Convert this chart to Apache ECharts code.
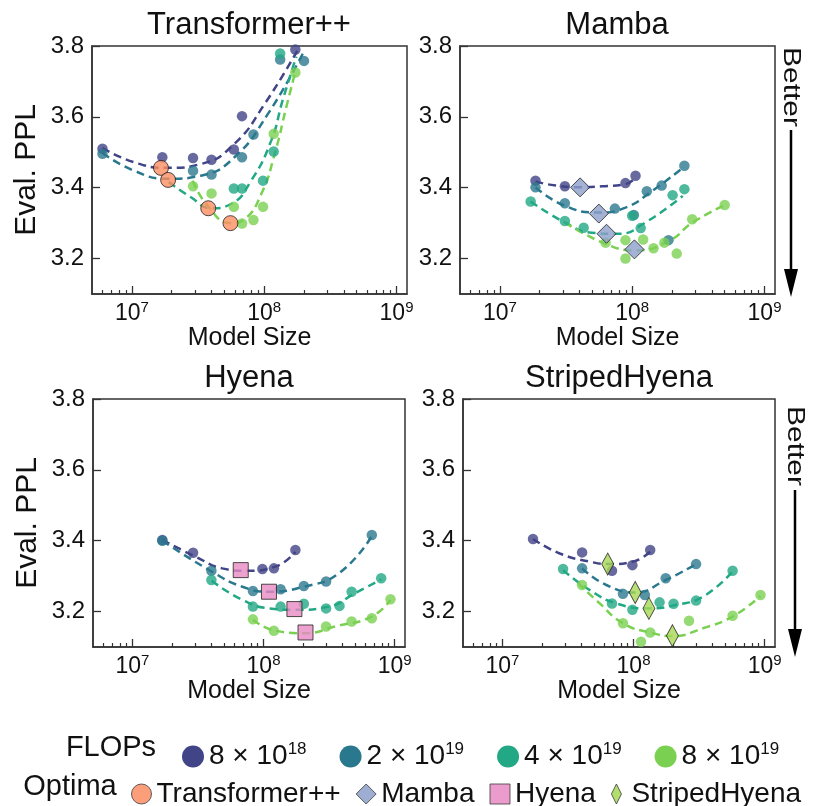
<!DOCTYPE html>
<html>
<head>
<meta charset="utf-8">
<script src="https://cdn.jsdelivr.net/npm/echarts@6/dist/echarts.min.js"></script>
<style>
  html, body { margin: 0; padding: 0; background: #fff; }
  #chart { width: 827px; height: 806px; }
</style>
</head>
<body>
<div id="chart"></div>
<script>
// FLOP budgets (legend names) and model names
var flopNames = ['8e18', '2e19', '4e19', '8e19'];
var modelNames = ['Transformer++', 'Mamba', 'Hyena', 'StripedHyena'];

// tick labels
var xMajorTicks = [1e7, 1e8, 1e9];
var xMinorTicks = [6e6, 7e6, 8e6, 9e6, 2e7, 3e7, 4e7, 5e7, 6e7, 7e7, 8e7, 9e7,
  2e8, 3e8, 4e8, 5e8, 6e8, 7e8, 8e8, 9e8];
var yTicks = [3.2, 3.4, 3.6, 3.8];

// Transformer++ : measured runs per FLOP budget, fitted curves, optima
var tfDots = [
  [[6e6, 3.51], [1.7e7, 3.486], [2.9e7, 3.484], [4.0e7, 3.479], [5.9e7, 3.508], [6.8e7, 3.602], [1.72e8, 3.79]],
  [[6e6, 3.496], [2.9e7, 3.448], [4.0e7, 3.437], [6.8e7, 3.486], [8.3e7, 3.55], [1.32e8, 3.762], [2.0e8, 3.758]],
  [[5.9e7, 3.398], [6.8e7, 3.398], [9.8e7, 3.42], [1.18e8, 3.502], [1.32e8, 3.779]],
  [[2.9e7, 3.404], [4.0e7, 3.384], [5.9e7, 3.346], [6.8e7, 3.299], [8.3e7, 3.309], [9.8e7, 3.346], [1.18e8, 3.552], [1.72e8, 3.725]]
];
var tfFits = [
  [[6e6, 3.512], [1.04e7, 3.472], [1.86e7, 3.456], [3.33e7, 3.467], [5.96e7, 3.524], [1.01e8, 3.637], [1.8e8, 3.79]],
  [[6e6, 3.498], [1.04e7, 3.448], [1.86e7, 3.425], [3.33e7, 3.434], [5.96e7, 3.486], [1.07e8, 3.609], [1.96e8, 3.779]],
  [[1.9e7, 3.416], [2.8e7, 3.373], [3.96e7, 3.342], [5.62e7, 3.354], [7.98e7, 3.42], [1.13e8, 3.533], [1.38e8, 3.647], [1.75e8, 3.77]],
  [[2.88e7, 3.42], [3.74e7, 3.349], [5.56e7, 3.3], [7.1e7, 3.311], [9.5e7, 3.382], [1.2e8, 3.495], [1.47e8, 3.628], [1.72e8, 3.727]]
];
var tfOptima = [[1.66e7, 3.456], [1.88e7, 3.422], [3.78e7, 3.342], [5.56e7, 3.30]];

// Mamba
var mambaDots = [
  [[1.86e7, 3.42], [3.1e7, 3.404], [8.9e7, 3.413], [1.06e8, 3.434]],
  [[1.86e7, 3.401], [3.1e7, 3.356], [7.4e7, 3.341], [1.03e8, 3.323], [1.29e8, 3.39], [1.67e8, 3.406], [1.88e8, 3.252], [2.48e8, 3.462]],
  [[1.71e7, 3.361], [3.1e7, 3.306], [4.3e7, 3.287], [1.0e8, 3.321], [1.16e8, 3.286], [2.02e8, 3.379], [2.48e8, 3.396]],
  [[6.3e7, 3.245], [8.9e7, 3.252], [8.9e7, 3.2], [1.21e8, 3.254], [1.45e8, 3.229], [1.75e8, 3.245], [2.17e8, 3.214], [2.84e8, 3.311], [5.0e8, 3.351]]
];
var mambaFits = [
  [[1.86e7, 3.418], [2.45e7, 3.408], [4.04e7, 3.401], [5.9e7, 3.404], [8.9e7, 3.41], [1.06e8, 3.429]],
  [[1.86e7, 3.401], [3.1e7, 3.349], [5.57e7, 3.33], [8.9e7, 3.344], [1.42e8, 3.391], [2.48e8, 3.46]],
  [[1.71e7, 3.361], [3.1e7, 3.302], [4.95e7, 3.273], [7.9e7, 3.27], [1.26e8, 3.302], [2.41e8, 3.377]],
  [[3.1e7, 3.302], [6.25e7, 3.242], [1.06e8, 3.223], [1.9e8, 3.25], [2.87e8, 3.302], [5.0e8, 3.351]]
];
var mambaOptima = [[4.04e7, 3.401], [5.6e7, 3.327], [6.4e7, 3.27], [1.04e8, 3.226]];

// Hyena
var hyenaDots = [
  [[1.69e7, 3.402], [2.9e7, 3.366], [9.8e7, 3.32], [1.2e8, 3.322], [1.75e8, 3.374]],
  [[1.69e7, 3.40], [4.0e7, 3.315], [8.3e7, 3.258], [1.35e8, 3.263], [2.03e8, 3.272], [3.0e8, 3.285], [6.7e8, 3.416]],
  [[4.0e7, 3.289], [8.3e7, 3.214], [1.35e8, 3.214], [2.03e8, 3.222], [3.0e8, 3.209], [3.8e8, 3.216], [4.7e8, 3.256], [7.9e8, 3.294]],
  [[8.3e7, 3.178], [1.2e8, 3.146], [3.0e8, 3.158], [4.7e8, 3.172], [6.7e8, 3.181], [9.3e8, 3.235]]
];
var hyenaFits = [
  [[1.69e7, 3.402], [3.03e7, 3.355], [4.84e7, 3.322], [7.3e7, 3.315], [1.23e8, 3.327], [1.75e8, 3.369]],
  [[1.69e7, 3.40], [4.02e7, 3.313], [6.9e7, 3.27], [1.1e8, 3.256], [1.97e8, 3.269], [3.75e8, 3.308], [6.7e8, 3.413]],
  [[4.02e7, 3.287], [6.9e7, 3.233], [1.1e8, 3.209], [1.75e8, 3.205], [3.14e8, 3.214], [5.0e8, 3.252], [7.9e8, 3.291]],
  [[8.3e7, 3.177], [1.23e8, 3.146], [2.09e8, 3.139], [3.53e8, 3.158], [6.7e8, 3.186], [9.3e8, 3.233]]
];
var hyenaOptima = [[6.7e7, 3.317], [1.1e8, 3.256], [1.72e8, 3.207], [2.09e8, 3.141]];

// StripedHyena
var stripedDots = [
  [[1.71e7, 3.405], [4.05e7, 3.367], [6.85e7, 3.315], [9.8e7, 3.331], [1.34e8, 3.374]],
  [[4.05e7, 3.322], [8.3e7, 3.25], [1.22e8, 3.247], [1.76e8, 3.294], [3.0e8, 3.334]],
  [[2.9e7, 3.32], [6.85e7, 3.223], [9.8e7, 3.205], [1.58e8, 3.226], [2.02e8, 3.222], [3.0e8, 3.231], [5.7e8, 3.315]],
  [[4.05e7, 3.275], [8.3e7, 3.167], [1.14e8, 3.115], [1.34e8, 3.141], [2.65e8, 3.174], [5.7e8, 3.188], [9.3e8, 3.247]]
];
var stripedFits = [
  [[1.71e7, 3.405], [2.74e7, 3.364], [4.63e7, 3.341], [6.58e7, 3.334], [9.9e7, 3.341], [1.34e8, 3.369]],
  [[4.05e7, 3.322], [6.2e7, 3.275], [1.03e8, 3.254], [1.76e8, 3.289], [3.0e8, 3.334]],
  [[2.9e7, 3.317], [4.63e7, 3.261], [7.4e7, 3.223], [1.31e8, 3.209], [2.12e8, 3.219], [3.39e8, 3.242], [5.7e8, 3.313]],
  [[3.78e7, 3.28], [5.52e7, 3.223], [8.3e7, 3.167], [1.33e8, 3.141], [2.0e8, 3.131], [3.39e8, 3.153], [5.7e8, 3.186], [9.3e8, 3.244]]
];
var stripedOptima = [[6.35e7, 3.334], [1.03e8, 3.254], [1.31e8, 3.209], [1.98e8, 3.132]];

var flopColors = ['#414487', '#2a788e', '#22a884', '#7ad151'];
var optimaColors = ['#fc8d62', '#8da0cb', '#e78ac3', '#a6d854'];
var optimaSymbols = ['circle', 'diamond', 'rect', 'path://M50,0 L100,100 L50,200 L0,100 Z'];
var optimaSizes = [15, 19, 15, [12, 22]];
var FONT = '"Liberation Sans", Arial, Helvetica, sans-serif';

var panels = [
  { dots: tfDots, fits: tfFits, optima: tfOptima },
  { dots: mambaDots, fits: mambaFits, optima: mambaOptima },
  { dots: hyenaDots, fits: hyenaFits, optima: hyenaOptima },
  { dots: stripedDots, fits: stripedFits, optima: stripedOptima }
];
var grids = [
  { left: 92, top: 46, width: 315, height: 248 },
  { left: 460, top: 46, width: 315, height: 248 },
  { left: 93, top: 399, width: 312, height: 248 },
  { left: 463, top: 399, width: 312, height: 248 }
];

var supRich = {
  b: { fontSize: 23, fontFamily: FONT, color: '#111' },
  s: { fontSize: 15, fontFamily: FONT, color: '#111', padding: [0, 0, 12, 0] }
};

var xAxes = [], yAxes = [], series = [];
grids.forEach(function (g, i) {
  g.show = true;
  g.borderColor = '#333';
  g.borderWidth = 1.5;
  // major ticks + labels
  xAxes.push({
    type: 'log', gridIndex: i, min: 5e6, max: 1.2e9, position: 'bottom',
    axisLine: { show: true, onZero: false, lineStyle: { color: '#333', width: 1.5 } },
    axisTick: { show: true, inside: true, length: 8, customValues: xMajorTicks, lineStyle: { color: '#333', width: 1.3 } },
    axisLabel: {
      customValues: xMajorTicks, margin: 6,
      formatter: function (v) { return '{b|10}{s|' + Math.round(Math.log10(v)) + '}'; },
      rich: supRich
    },
    splitLine: { show: false },
    name: 'Model Size', nameLocation: 'middle', nameGap: 31,
    nameTextStyle: { fontSize: 25, fontFamily: FONT, color: '#111' }
  });
  // minor ticks
  xAxes.push({
    type: 'log', gridIndex: i, min: 5e6, max: 1.2e9, position: 'bottom',
    axisLine: { show: false },
    axisTick: { show: true, inside: true, length: 4, customValues: xMinorTicks, lineStyle: { color: '#333', width: 1.2 } },
    axisLabel: { show: false },
    splitLine: { show: false }
  });
  yAxes.push({
    type: 'value', gridIndex: i, min: 3.1, max: 3.8,
    axisLine: { show: true, onZero: false, lineStyle: { color: '#333', width: 1.5 } },
    axisTick: { show: true, inside: true, length: 8, customValues: yTicks, lineStyle: { color: '#333', width: 1.3 } },
    axisLabel: {
      customValues: yTicks, margin: 8, fontSize: 24, fontFamily: FONT, color: '#111',
      formatter: function (v) { return v.toFixed(1); }
    },
    splitLine: { show: false },
    name: (i % 2 === 0) ? 'Eval. PPL' : '', nameLocation: 'middle', nameGap: 50, nameRotate: 90,
    nameTextStyle: { fontSize: 30, fontFamily: FONT, color: '#111' }
  });

  var p = panels[i];
  for (var k = 0; k < 4; k++) {
    series.push({
      name: flopNames[k], type: 'scatter', xAxisIndex: 2 * i, yAxisIndex: i,
      data: p.dots[k], symbol: 'circle', symbolSize: 10.5,
      itemStyle: { color: flopColors[k], opacity: 0.8 }, z: 3
    });
  }
  for (var k2 = 0; k2 < 4; k2++) {
    series.push({
      name: flopNames[k2], type: 'line', xAxisIndex: 2 * i, yAxisIndex: i,
      data: p.fits[k2], smooth: 0.5, showSymbol: false, symbol: 'none',
      lineStyle: { color: flopColors[k2], width: 2.5, type: [8, 5] }, z: 2
    });
  }
  series.push({
    name: modelNames[i], type: 'scatter', xAxisIndex: 2 * i, yAxisIndex: i,
    data: p.optima, symbol: optimaSymbols[i], symbolSize: optimaSizes[i],
    itemStyle: { color: optimaColors[i], borderColor: '#222', borderWidth: 1 }, z: 5
  });
});

var titles = [
  { x: 249, y: 25, text: 'Transformer++' },
  { x: 617, y: 25, text: 'Mamba' },
  { x: 249, y: 378, text: 'Hyena' },
  { x: 619, y: 378, text: 'StripedHyena' }
];
var graphics = titles.map(function (t) {
  return { type: 'text', x: t.x, y: t.y,
    style: { text: t.text, fontSize: 31, fontFamily: FONT, fill: '#111', align: 'center', verticalAlign: 'middle' } };
});
graphics.push(
  { type: 'text', x: 111, y: 748, style: { text: 'FLOPs', fontSize: 29, fontFamily: FONT, fill: '#111', align: 'center', verticalAlign: 'middle' } },
  { type: 'text', x: 70, y: 787, style: { text: 'Optima', fontSize: 29, fontFamily: FONT, fill: '#111', align: 'center', verticalAlign: 'middle' } }
);
// "Better" arrows
[{ ty: 87, y1: 130, y2: 297, x: 791 }, { ty: 446, y1: 490, y2: 657, x: 795 }].forEach(function (a) {
  graphics.push(
    { type: 'text', x: a.x, y: a.ty, rotation: -Math.PI / 2, scaleX: 1.25,
      style: { text: 'Better', fontSize: 24, fontFamily: FONT, fill: '#111', align: 'center', verticalAlign: 'middle' } },
    { type: 'line', shape: { x1: a.x, y1: a.y1, x2: a.x, y2: a.y2 - 20 }, style: { stroke: '#000', lineWidth: 2.5 } },
    { type: 'polygon', shape: { points: [[a.x - 7, a.y2 - 28], [a.x + 7, a.y2 - 28], [a.x, a.y2]] }, style: { fill: '#000' } }
  );
});

var option = {
  backgroundColor: '#fff',
  animation: false,
  grid: grids,
  xAxis: xAxes,
  yAxis: yAxes,
  series: series,
  graphic: graphics,
  legend: [
    {
      data: flopNames.map(function (n, i) {
        return { name: n, icon: 'circle', itemStyle: { color: flopColors[i], opacity: 1 } };
      }),
      left: 177, top: 736, itemWidth: 22, itemHeight: 22, itemGap: 33,
      formatter: function (name) {
        var parts = name.split('e');
        return '{b|' + parts[0] + ' × 10}{s|' + parts[1] + '}';
      },
      textStyle: { rich: { b: { fontSize: 28, fontFamily: FONT, color: '#111' }, s: { fontSize: 17, fontFamily: FONT, color: '#111', padding: [0, 0, 14, 0] } } }
    },
    {
      data: modelNames.map(function (n, i) {
        return { name: n, icon: optimaSymbols[i],
          itemStyle: { color: optimaColors[i], borderColor: '#444', borderWidth: 1, opacity: 0.85 } };
      }),
      left: 126, top: 775, itemWidth: 20, itemHeight: 20, itemGap: 15,
      textStyle: { fontSize: 28, fontFamily: FONT, color: '#111' }
    }
  ]
};

var myChart = echarts.init(document.getElementById('chart'));
myChart.setOption(option);
window.addEventListener('resize', function () { myChart.resize(); });
</script>
</body>
</html>
